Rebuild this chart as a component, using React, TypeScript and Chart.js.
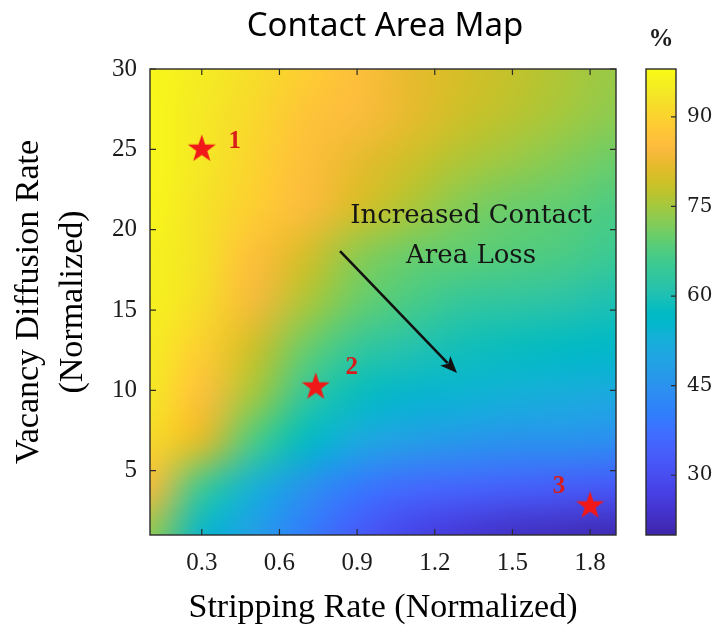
import React, { useEffect, useRef } from 'react';
import { Chart, registerables } from 'chart.js';

Chart.register(...registerables);

// ---------- data ----------
const X_GRID = [0.1, 0.3, 0.5, 0.7, 0.9, 1.1, 1.3, 1.5, 1.7, 1.9];
const Y_GRID = [30, 27.1, 24.2, 21.3, 18.4, 15.5, 12.6, 9.7, 6.8, 3.9, 1];

const AREA_Y30_0 = [97, 95, 92, 89, 86, 82, 80, 78, 76, 74];
const AREA_Y27_1 = [97, 94, 91, 87, 85, 82, 79, 77, 75, 73];
const AREA_Y24_2 = [97, 94, 90, 86, 82, 79, 76, 74, 72, 70];
const AREA_Y21_3 = [97, 93, 89, 85, 80, 76, 72, 70, 69, 67];
const AREA_Y18_4 = [96, 93, 86, 80, 73, 70, 69, 68, 67, 65];
const AREA_Y15_5 = [96, 92, 84, 76, 70, 67, 64, 63, 62, 60];
const AREA_Y12_6 = [95, 89, 79, 70, 64, 61, 59, 58, 57, 56];
const AREA_Y09_7 = [94, 86, 75, 64, 58, 55, 54, 53, 52, 51];
const AREA_Y06_8 = [91, 81, 67, 57, 51, 48, 46, 45, 45, 44];
const AREA_Y03_9 = [84, 65, 53, 45, 39, 36, 35, 34, 33, 32];
const AREA_Y01_0 = [73, 55, 48, 40, 33, 28, 25, 23, 22, 21];
const CONTACT_AREA = [
  AREA_Y30_0, AREA_Y27_1, AREA_Y24_2, AREA_Y21_3, AREA_Y18_4, AREA_Y15_5,
  AREA_Y12_6, AREA_Y09_7, AREA_Y06_8, AREA_Y03_9, AREA_Y01_0,
];

const STAR_X = [0.3, 0.74, 1.8];
const STAR_Y = [25.1, 10.3, 2.9];
const STAR_LABELS = ['1', '2', '3'];

const X_TICKS = [0.3, 0.6, 0.9, 1.2, 1.5, 1.8];
const X_TICK_LABELS = ['0.3', '0.6', '0.9', '1.2', '1.5', '1.8'];
const Y_TICKS = [5, 10, 15, 20, 25, 30];
const Y_TICK_LABELS = ['5', '10', '15', '20', '25', '30'];
const CB_TICKS = [30, 45, 60, 75, 90];
const CB_TICK_LABELS = ['30', '45', '60', '75', '90'];
const CB_MIN = 20;
const CB_MAX = 98;

const TITLE = 'Contact Area Map';
const X_TITLE = 'Stripping Rate (Normalized)';
const Y_TITLE = ['Vacancy Diffusion Rate', '(Normalized)'];
const CB_TITLE = '%';
const NOTE_LINES = ['Increased Contact', 'Area Loss'];

// annotation placement (data coordinates)
const ARROW_FROM = { x: 0.834, y: 18.67 };
const ARROW_TO = { x: 1.286, y: 11.08 };
const NOTE_POS = { x: 1.34, y: 20.42 };

// ---------- style ----------
const PARULA: number[][] = [
  [0.2422,0.1504,0.6603],[0.2504,0.1650,0.7076],[0.2578,0.1818,0.7511],[0.2647,0.1978,0.7952],
  [0.2706,0.2147,0.8364],[0.2751,0.2342,0.8710],[0.2783,0.2559,0.8991],[0.2803,0.2782,0.9221],
  [0.2813,0.3006,0.9414],[0.2810,0.3228,0.9579],[0.2795,0.3447,0.9717],[0.2760,0.3667,0.9829],
  [0.2699,0.3892,0.9906],[0.2602,0.4123,0.9952],[0.2440,0.4358,0.9988],[0.2206,0.4603,0.9973],
  [0.1963,0.4847,0.9892],[0.1834,0.5074,0.9798],[0.1786,0.5289,0.9682],[0.1764,0.5499,0.9520],
  [0.1687,0.5703,0.9359],[0.1540,0.5902,0.9218],[0.1460,0.6091,0.9079],[0.1380,0.6276,0.8973],
  [0.1248,0.6459,0.8883],[0.1113,0.6635,0.8763],[0.0952,0.6798,0.8598],[0.0689,0.6948,0.8394],
  [0.0297,0.7082,0.8163],[0.0036,0.7203,0.7917],[0.0067,0.7312,0.7660],[0.0433,0.7411,0.7394],
  [0.0964,0.7500,0.7120],[0.1408,0.7584,0.6842],[0.1717,0.7670,0.6554],[0.1938,0.7758,0.6251],
  [0.2161,0.7843,0.5923],[0.2470,0.7918,0.5567],[0.2906,0.7973,0.5188],[0.3406,0.8008,0.4789],
  [0.3909,0.8029,0.4354],[0.4456,0.8024,0.3909],[0.5044,0.7993,0.3480],[0.5616,0.7942,0.3045],
  [0.6174,0.7876,0.2612],[0.6720,0.7793,0.2227],[0.7242,0.7698,0.1910],[0.7738,0.7598,0.1646],
  [0.8203,0.7498,0.1535],[0.8634,0.7406,0.1596],[0.9035,0.7330,0.1774],[0.9393,0.7288,0.2100],
  [0.9728,0.7298,0.2394],[0.9956,0.7434,0.2371],[0.9970,0.7659,0.2199],[0.9952,0.7893,0.2028],
  [0.9892,0.8136,0.1885],[0.9786,0.8386,0.1766],[0.9676,0.8639,0.1643],[0.9610,0.8890,0.1537],
  [0.9597,0.9135,0.1423],[0.9628,0.9373,0.1265],[0.9691,0.9606,0.1064],[0.9769,0.9839,0.0805],
];

function parula(t: number): [number, number, number] {
  const c = Math.min(1, Math.max(0, t)) * (PARULA.length - 1);
  const i = Math.min(PARULA.length - 2, Math.floor(c));
  const f = c - i;
  const a = PARULA[i], b = PARULA[i + 1];
  return [0, 1, 2].map((k) => Math.round((a[k] + (b[k] - a[k]) * f) * 255)) as [number, number, number];
}

const FRAME = '#2b2b2b';
const TEXT = '#1c1c1c';
const STAR_RED = '#f01818';
const LABEL_RED = '#d81c1c';
const LABEL_OFFSETS = [[33, -6], [36, -18], [-31, -18]];

function makeStar(r: number, color: string): HTMLCanvasElement {
  const size = Math.ceil(r * 2 + 2);
  const c = document.createElement('canvas');
  c.width = size;
  c.height = size;
  const g = c.getContext('2d')!;
  g.translate(size / 2, size / 2 + r * 0.095);
  g.beginPath();
  for (let k = 0; k < 10; k++) {
    const rad = k % 2 === 0 ? r : r * 0.39;
    const a = -Math.PI / 2 + (k * Math.PI) / 5;
    g.lineTo(rad * Math.cos(a), rad * Math.sin(a));
  }
  g.closePath();
  g.fillStyle = color;
  g.fill();
  return c;
}

const heatmapPlugin = {
  id: 'heatmap',
  beforeDatasetsDraw(chart: any) {
    const { ctx, chartArea, scales } = chart;
    const xs = scales.x, ys = scales.y;
    const nx = X_GRID.length, ny = Y_GRID.length;
    const off = document.createElement('canvas');
    off.width = nx;
    off.height = ny;
    const octx = off.getContext('2d')!;
    const img = octx.createImageData(nx, ny);
    for (let j = 0; j < ny; j++) {
      for (let i = 0; i < nx; i++) {
        const v = CONTACT_AREA[j][i];
        const [r, g, b] = parula((v - CB_MIN) / (CB_MAX - CB_MIN));
        const p = (j * nx + i) * 4;
        img.data[p] = r; img.data[p + 1] = g; img.data[p + 2] = b; img.data[p + 3] = 255;
      }
    }
    octx.putImageData(img, 0, 0);
    const hx = (X_GRID[1] - X_GRID[0]) / 2;
    const hy = (Y_GRID[0] - Y_GRID[1]) / 2;
    const left = xs.getPixelForValue(X_GRID[0] - hx);
    const right = xs.getPixelForValue(X_GRID[nx - 1] + hx);
    const top = ys.getPixelForValue(Y_GRID[0] + hy);
    const bottom = ys.getPixelForValue(Y_GRID[ny - 1] - hy);
    ctx.save();
    ctx.beginPath();
    ctx.rect(chartArea.left, chartArea.top, chartArea.right - chartArea.left, chartArea.bottom - chartArea.top);
    ctx.clip();
    ctx.imageSmoothingEnabled = true;
    (ctx as any).imageSmoothingQuality = 'high';
    ctx.drawImage(off, left, top, right - left, bottom - top);
    ctx.restore();
  },
  afterDatasetsDraw(chart: any) {
    const { ctx, chartArea: a, scales } = chart;
    const xs = scales.x, ys = scales.y, cb = scales.cb;
    ctx.save();
    // frame + inward ticks
    ctx.strokeStyle = FRAME;
    ctx.lineWidth = 1.4;
    ctx.strokeRect(a.left, a.top, a.right - a.left, a.bottom - a.top);
    ctx.lineWidth = 1.2;
    ctx.beginPath();
    const tl = 6;
    X_TICKS.forEach((v) => {
      const px = xs.getPixelForValue(v);
      ctx.moveTo(px, a.bottom); ctx.lineTo(px, a.bottom - tl);
      ctx.moveTo(px, a.top); ctx.lineTo(px, a.top + tl);
    });
    Y_TICKS.forEach((v) => {
      const py = ys.getPixelForValue(v);
      ctx.moveTo(a.left, py); ctx.lineTo(a.left + tl, py);
      ctx.moveTo(a.right, py); ctx.lineTo(a.right - tl, py);
    });
    ctx.stroke();

    // colour bar
    const bx = cb.left + 30, bw = 30;
    const bTop = cb.getPixelForValue(CB_MAX), bBot = cb.getPixelForValue(CB_MIN);
    const grad = ctx.createLinearGradient(0, bBot, 0, bTop);
    PARULA.forEach((c, k) => {
      grad.addColorStop(k / (PARULA.length - 1), `rgb(${Math.round(c[0] * 255)},${Math.round(c[1] * 255)},${Math.round(c[2] * 255)})`);
    });
    ctx.fillStyle = grad;
    ctx.fillRect(bx, bTop, bw, bBot - bTop);
    ctx.lineWidth = 1.4;
    ctx.strokeRect(bx, bTop, bw, bBot - bTop);
    ctx.lineWidth = 1.2;
    ctx.beginPath();
    CB_TICKS.forEach((v) => {
      const py = cb.getPixelForValue(v);
      ctx.moveTo(bx + bw, py); ctx.lineTo(bx + bw - 5, py);
    });
    ctx.stroke();
    ctx.fillStyle = TEXT;
    ctx.font = 'bold 25px "Liberation Serif"';
    ctx.textAlign = 'center';
    ctx.textBaseline = 'alphabetic';
    ctx.fillText(CB_TITLE, bx + bw / 2, 46);

    // star labels
    ctx.fillStyle = LABEL_RED;
    ctx.font = 'bold 25px "Liberation Serif"';
    ctx.textBaseline = 'middle';
    STAR_LABELS.forEach((t, i) => {
      const px = xs.getPixelForValue(STAR_X[i]) + LABEL_OFFSETS[i][0];
      const py = ys.getPixelForValue(STAR_Y[i]) + LABEL_OFFSETS[i][1];
      ctx.fillText(t, px, py);
    });

    // arrow
    const x0 = xs.getPixelForValue(ARROW_FROM.x), y0 = ys.getPixelForValue(ARROW_FROM.y);
    const x1 = xs.getPixelForValue(ARROW_TO.x), y1 = ys.getPixelForValue(ARROW_TO.y);
    const ang = Math.atan2(y1 - y0, x1 - x0);
    const hl = 17, hw = 7;
    ctx.strokeStyle = '#111';
    ctx.lineWidth = 2.6;
    ctx.beginPath();
    ctx.moveTo(x0, y0);
    ctx.lineTo(x1 - hl * 0.8 * Math.cos(ang), y1 - hl * 0.8 * Math.sin(ang));
    ctx.stroke();
    ctx.fillStyle = '#111';
    ctx.beginPath();
    ctx.moveTo(x1, y1);
    ctx.lineTo(x1 - hl * Math.cos(ang) + hw * Math.sin(ang), y1 - hl * Math.sin(ang) - hw * Math.cos(ang));
    ctx.lineTo(x1 - hl * 0.75 * Math.cos(ang), y1 - hl * 0.75 * Math.sin(ang));
    ctx.lineTo(x1 - hl * Math.cos(ang) - hw * Math.sin(ang), y1 - hl * Math.sin(ang) + hw * Math.cos(ang));
    ctx.closePath();
    ctx.fill();

    // note text
    ctx.fillStyle = '#151515';
    ctx.font = '26px "DejaVu Serif"';
    ctx.textAlign = 'center';
    ctx.textBaseline = 'alphabetic';
    const nx = xs.getPixelForValue(NOTE_POS.x), ny = ys.getPixelForValue(NOTE_POS.y);
    NOTE_LINES.forEach((t, i) => ctx.fillText(t, nx, ny + i * 40));

    // chart title
    ctx.fillStyle = '#000';
    ctx.font = '33px "Noto Sans"';
    ctx.fillText(TITLE, (a.left + a.right) / 2 + 2, 36);
    ctx.restore();
  },
};

const zeroPad = (s: any) => {
  s.paddingTop = 0; s.paddingBottom = 0; s.paddingLeft = 0; s.paddingRight = 0;
};

export default function App() {
  const ref = useRef<HTMLCanvasElement>(null);
  useEffect(() => {
    const canvas = ref.current!;
    const star = makeStar(14.7, STAR_RED);
    const chart = new Chart(canvas, {
      type: 'scatter',
      data: {
        datasets: [
          {
            label: 'cases',
            data: STAR_X.map((x, i) => ({ x, y: STAR_Y[i] })),
            pointStyle: star as any,
            pointRadius: 15,
            showLine: false,
          },
        ],
      },
      options: {
        animation: false,
        responsive: true,
        maintainAspectRatio: false,
        layout: { padding: { top: 69, left: 0, right: 0, bottom: 0 } },
        plugins: {
          legend: { display: false },
          tooltip: { enabled: false },
          title: { display: false },
        },
        scales: {
          x: {
            type: 'linear',
            position: 'bottom',
            min: 0.1,
            max: 1.9,
            afterBuildTicks: (s: any) => { s.ticks = X_TICKS.map((v) => ({ value: v })); },
            afterFit: (s: any) => { s.height = 91; zeroPad(s); },
            grid: { display: false, drawTicks: false, tickLength: 0 },
            border: { display: false },
            ticks: {
              color: TEXT,
              padding: 13,
              maxRotation: 0,
              font: { family: 'Liberation Serif', size: 25 },
              callback: (_v: any, i: number) => X_TICK_LABELS[i],
            },
            title: {
              display: true,
              text: X_TITLE,
              color: '#000',
              font: { family: 'Liberation Serif', size: 34, lineHeight: 1 },
              padding: { top: 0, bottom: 1 },
            },
          },
          y: {
            type: 'linear',
            position: 'left',
            min: 1,
            max: 30,
            afterBuildTicks: (s: any) => { s.ticks = Y_TICKS.map((v) => ({ value: v })); },
            afterFit: (s: any) => { s.width = 150; zeroPad(s); },
            grid: { display: false, drawTicks: false, tickLength: 0 },
            border: { display: false },
            ticks: {
              color: TEXT,
              padding: 13,
              font: { family: 'Liberation Serif', size: 25 },
              callback: (_v: any, i: number) => Y_TICK_LABELS[i],
            },
            title: {
              display: true,
              text: Y_TITLE,
              color: '#000',
              font: { family: 'Liberation Serif', size: 34, lineHeight: 44 / 34 },
              padding: { top: 7, bottom: 0 },
            },
          },
          cb: {
            type: 'linear',
            position: 'right',
            axis: 'y',
            min: CB_MIN,
            max: CB_MAX,
            afterBuildTicks: (s: any) => { s.ticks = CB_TICKS.map((v) => ({ value: v })); },
            afterFit: (s: any) => { s.width = 104; zeroPad(s); },
            grid: { display: false, drawTicks: false, tickLength: 0 },
            border: { display: false },
            ticks: {
              color: TEXT,
              padding: 71,
              font: { family: 'DejaVu Serif', size: 20 },
              callback: (_v: any, i: number) => CB_TICK_LABELS[i],
            },
          },
        },
      } as any,
      plugins: [heatmapPlugin],
    });
    return () => chart.destroy();
  }, []);
  return (
    <div style={{ position: 'absolute', left: 0, top: 0, width: 720, height: 626, background: '#fff' }}>
      <canvas ref={ref} />
    </div>
  );
}
